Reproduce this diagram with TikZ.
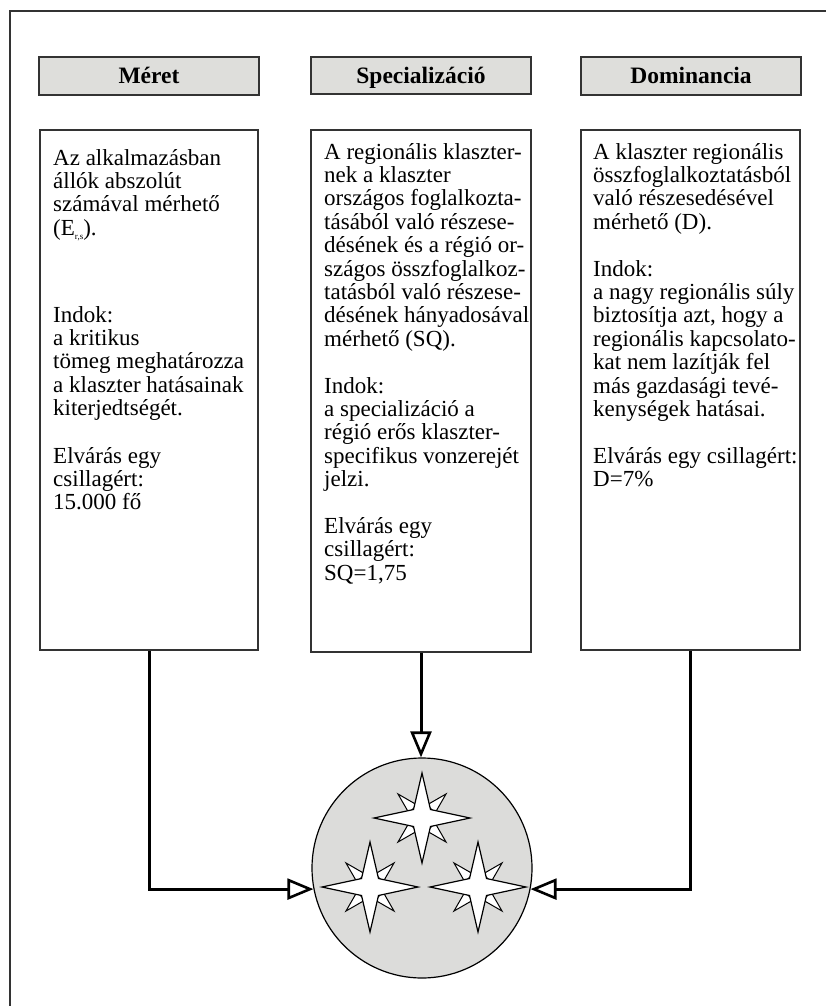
\documentclass[tikz,border=0pt]{standalone}
\usepackage{fontspec}
\setmainfont{Liberation Serif}
\usetikzlibrary{arrows.meta}
\definecolor{hdrgray}{HTML}{DEDEDB}
\definecolor{circgray}{HTML}{DCDCDA}
\definecolor{linegray}{HTML}{333333}
\tikzset{
  hdr/.style={draw=linegray, line width=2pt, fill=hdrgray, inner sep=0pt,
    text height=16pt, text depth=0pt,
    font=\fontsize{23.5}{26}\selectfont\bfseries},
  txtbox/.style={draw=linegray, line width=1.5pt, inner sep=0pt},
  para/.style={anchor=north west, align=left, inner sep=0pt,
    font=\fontsize{23}{23.4}\selectfont},
  conn/.style={line width=3pt,
    -{Triangle[fill=white, length=26pt, width=21pt, line width=2.6pt]}},
  cstar/.pic={
    \foreach \a in {45,135,225,315} {
      \draw[fill=white, line width=1pt, line join=miter] (\a-24:14) -- (\a:34) -- (\a+24:14) -- cycle;
    }
    \draw[fill=white, line width=1.2pt, line join=miter]
      (0:48) -- (45:12) -- (90:45) -- (135:12) -- (180:48) -- (225:12)
      -- (270:45) -- (315:12) -- cycle;
  }
}
\begin{document}
\begin{tikzpicture}[x=1pt,y=-1pt]
\useasboundingbox (0,0) rectangle (826,1006);
% outer frame (left and top visible)
\coordinate (fbl) at (10,1006);
\coordinate (ftl) at (10,11);
\coordinate (ftr) at (826,11);
\draw[draw=linegray, line width=2pt] (fbl) -- (ftl) -- (ftr);

% headers
\node[hdr, minimum width=220pt, minimum height=38pt] (h1) at (149,76) {Méret};
\node[hdr, minimum width=220pt, minimum height=37pt] (h2) at (421,75.5) {Specializáció};
\node[hdr, minimum width=220pt, minimum height=38pt] (h3) at (691,76) {Dominancia};

% text boxes
\node[txtbox, minimum width=218pt, minimum height=520pt] (b1) at (149,390) {};
\node[txtbox, minimum width=220pt, minimum height=522pt] (b2) at (421,391) {};
\node[txtbox, minimum width=219pt, minimum height=520pt] (b3) at (690.5,390) {};

% left texts
\node[para] (t1a) at (53,148.6) {\strut Az alkalmazásban\\állók abszolút\\számával mérhető\\(E{\raisebox{-0.35ex}{\fontsize{9}{9}\selectfont r,s}}).};
\node[para] (t1b) at (53,305.6) {\strut Indok:\\a kritikus\\tömeg meghatározza\\a klaszter hatásainak\\kiterjedtségét.};
\node[para] (t1c) at (53,446.6) {\strut Elvárás egy\\csillagért:\\15.000 fő};

% middle texts
\node[para] (t2a) at (324,142.6) {\strut A regionális klaszter-\\nek a klaszter\\országos foglalkozta-\\tásából való részese-\\désének és a régió or-\\szágos összfoglalkoz-\\tatásból való részese-\\désének hányadosával\\mérhető (SQ).};
\node[para] (t2b) at (324,376.6) {\strut Indok:\\a specializáció a\\régió erős klaszter-\\specifikus vonzerejét\\jelzi.};
\node[para] (t2c) at (324,517) {\strut Elvárás egy\\csillagért:\\SQ=1,75};

% right texts
\node[para] (t3a) at (593,142.6) {\strut A klaszter regionális\\összfoglalkoztatásból\\való részesedésével\\mérhető (D).};
\node[para] (t3b) at (593,259.6) {\strut Indok:\\a nagy regionális súly\\biztosítja azt, hogy a\\regionális kapcsolato-\\kat nem lazítják fel\\más gazdasági tevé-\\kenységek hatásai.};
\node[para] (t3c) at (593,446.8) {\strut Elvárás egy csillagért:\\D=7\%};

% circle with stars
\node[circle, draw=black, line width=1.2pt, fill=circgray, minimum size=220pt, inner sep=0pt] (c) at (422,868) {};
\pic at (422,818) {cstar};
\pic at (370,887) {cstar};
\pic at (478,887) {cstar};

% connectors
\draw[conn] (b1.south) |- (c.191);
\draw[conn] (b2.south) -- (b2.south |- c.north);
\draw[conn] (b3.south) |- (c.349);
\end{tikzpicture}
\end{document}
